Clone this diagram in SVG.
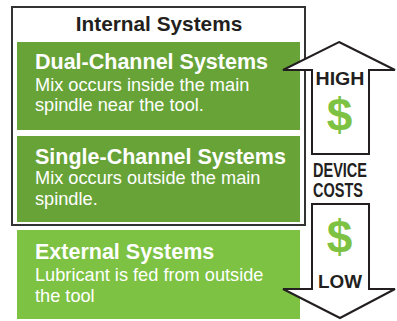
<svg xmlns="http://www.w3.org/2000/svg" width="397" height="321" viewBox="0 0 397 321">
<style>
.t{font-family:"Liberation Sans",Arial,Helvetica,sans-serif;font-weight:bold;font-size:21.5px;fill:#fff}
.b{font-family:"Liberation Sans",Arial,Helvetica,sans-serif;font-size:18.2px;fill:#fff}
.k{font-family:"Liberation Sans",Arial,Helvetica,sans-serif;font-weight:bold;fill:#231f20}
.d{font-family:"Liberation Sans",Arial,Helvetica,sans-serif;font-weight:bold;font-size:46px;fill:#7dc242}
.arrow{fill:#fff;stroke:#231f20;stroke-width:2;stroke-linejoin:miter}
</style>
<rect width="397" height="321" fill="#fff"/>
<g id="internal">
<rect x="12" y="7" width="293" height="218" fill="#fff" stroke="#333" stroke-width="2"/>
<text class="k" x="159" y="31" font-size="20.8" text-anchor="middle">Internal Systems</text>
</g>
<g id="dual">
<rect x="17" y="42" width="283" height="88" fill="#68a338"/>
<text class="t" x="35" y="69">Dual-Channel Systems</text>
<text class="b" x="35" y="91">Mix occurs inside the main</text>
<text class="b" x="35" y="111">spindle near the tool.</text>
</g>
<g id="single">
<rect x="17" y="136" width="283" height="86" fill="#68a338"/>
<text class="t" x="35" y="163.5">Single-Channel Systems</text>
<text class="b" x="35" y="184">Mix occurs outside the main</text>
<text class="b" x="35" y="205">spindle.</text>
</g>
<g id="external">
<rect x="17" y="230" width="283" height="89" fill="#7dc242"/>
<text class="t" x="35" y="259">External Systems</text>
<text class="b" x="35" y="280.5">Lubricant is fed from outside</text>
<text class="b" x="35" y="302">the tool</text>
</g>
<g id="connectors">
<path class="arrow" d="M339,42 L395,70 L369,70 L369,154 L312,154 L312,70 L283,70 Z"/>
<path class="arrow" d="M312,204 L369,204 L369,289 L395,289 L340,318 L283,289 L312,289 Z"/>
</g>
<g id="high">
<text class="k" x="340" y="85" font-size="18" text-anchor="middle" textLength="49" lengthAdjust="spacingAndGlyphs">HIGH</text>
<text class="d" x="339.5" y="131" text-anchor="middle">$</text>
</g>
<g id="costs">
<text class="k" x="340" y="177" font-size="19.5" text-anchor="middle" textLength="54" lengthAdjust="spacingAndGlyphs">DEVICE</text>
<text class="k" x="338" y="197" font-size="19.5" text-anchor="middle" textLength="50" lengthAdjust="spacingAndGlyphs">COSTS</text>
</g>
<g id="low">
<text class="d" x="339.5" y="253" text-anchor="middle">$</text>
<text class="k" x="340" y="288" font-size="18.5" text-anchor="middle" textLength="44" lengthAdjust="spacingAndGlyphs">LOW</text>
</g>
</svg>
